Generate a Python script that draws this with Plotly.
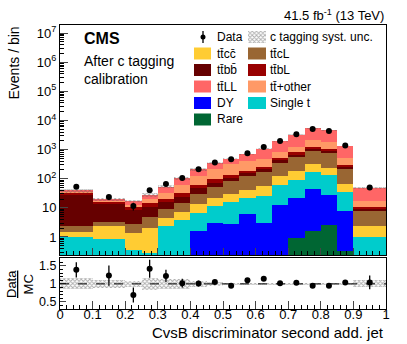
import plotly.graph_objects as go

# Binning of the CvsB discriminator (second additional jet)
bin_edges = [0.0, 0.1, 0.2, 0.25, 0.3, 0.35, 0.4, 0.45, 0.5, 0.55, 0.6, 0.65,
             0.7, 0.75, 0.8, 0.85, 0.9, 1.0]

# Expected events per process, stacked bottom -> top
rare     = [0, 0, 0, 0, 0, 0, 0, 0, 0, 0, 0, 0, 0.9, 1.6, 2.6, 0.33, 0]
dy       = [0, 0, 0, 0, 0, 0, 1.55, 3.1, 2.7, 6.0, 2.9, 12.8, 20.1, 43.4, 25.2, 7.3, 0]
single_t = [1.0, 0.83, 0.36, 0.28, 2.39, 3.8, 4.95, 8.5, 13.3, 15, 22.1, 48.2, 70, 131, 107, 27.4, 1.0]
ttcc     = [0.5, 1.57, 1.04, 1.72, 2.21, 3.6, 7.5, 10.4, 15, 21, 32, 67, 95, 139, 105, 33, 1.45]
ttcl     = [0.9, 0.96, 1.4, 2.76, 4.3, 7.7, 17, 31, 53, 78, 119, 228, 387, 605, 510, 147, 5.55]
ttbb     = [26.6, 10.6, 5.7, 5.74, 6.7, 9.2, 17, 17, 26, 40, 49, 84, 127, 180, 150, 50, 0.8]
ttbl     = [4.0, 2.0, 2.0, 3.9, 5.1, 8.7, 13, 26, 24, 30, 37, 66, 110, 160, 130, 35, 1.7]
tt_other = [2.0, 1.3, 2.1, 5.9, 12.3, 27, 63, 115, 186, 210, 208, 344, 450, 890, 770, 206, 6.8]
ttll     = [3.0, 1.8, 4.1, 7.9, 21, 44, 85, 134, 173, 284, 616, 1100, 2020, 3260, 2820, 814, 30.3]

# Observed data
data     = [53, 23.5, 11.5, 40, 66, 106, 211, 362, 468, 752, 1238, 1990, 3380, 5140, 4390, 1372, 49.5]
data_err = [7.3, 4.8, 3.4, 6.3, 8.1, 10.3, 14.5, 19, 21.6, 27.4, 35.2, 44.6, 58, 71.7, 66.3, 37, 7.0]

# Data/MC ratio and c tagging systematic uncertainty (relative)
ratio     = [1.39, 1.23, 0.69, 1.42, 1.22, 1.02, 1.01, 1.05, 0.95, 1.10, 1.14, 1.02, 1.03, 0.95, 0.95, 1.04, 1.04]
ratio_err = [0.21, 0.28, 0.21, 0.25, 0.17, 0.12, 0.08, 0.05, 0.05, 0.04, 0.035, 0.025, 0.02, 0.015, 0.015, 0.03, 0.19]
syst_unc  = [0.15, 0.11, 0.08, 0.17, 0.13, 0.13, 0.09, 0.06, 0.03, 0.03, 0.03, 0.03, 0.03, 0.03, 0.03, 0.03, 0.10]

FONT = "Liberation Sans, Arial, sans-serif"

stack = [
    (rare, "#006633"),
    (dy, "#0000ff"),
    (single_t, "#00cccc"),
    (ttcc, "#ffcc33"),
    (ttcl, "#996633"),
    (ttbb, "#660000"),
    (ttbl, "#990000"),
    (tt_other, "#ff9966"),
    (ttll, "#ff6666"),
]

centers = [(lo + hi) / 2 for lo, hi in zip(bin_edges[:-1], bin_edges[1:])]
widths = [hi - lo for lo, hi in zip(bin_edges[:-1], bin_edges[1:])]

fig = go.Figure()

# Stacked histograms
cum = [0.0] * len(centers)
for vals, color in stack:
    fig.add_trace(go.Bar(x=centers, y=vals, base=[max(c, 1e-3) for c in cum], width=widths,
                         marker=dict(color=color, line_width=0), xaxis="x", yaxis="y",
                         showlegend=False, hoverinfo="skip"))
    cum = [c + v for c, v in zip(cum, vals)]
mc = cum

hatch = dict(color="rgba(0,0,0,0)", line_width=0,
             pattern=dict(shape="x", fgcolor="#5a5a5a", bgcolor="rgba(0,0,0,0)", size=3, solidity=0.5))

# Systematic band on top of the stack
fig.add_trace(go.Bar(x=centers, y=[2 * m * u for m, u in zip(mc, syst_unc)],
                     base=[m * (1 - u) for m, u in zip(mc, syst_unc)], width=widths,
                     marker=hatch, xaxis="x", yaxis="y", showlegend=False))

fig.add_trace(go.Scatter(x=centers, y=data, mode="markers", xaxis="x", yaxis="y",
                         marker=dict(color="black", size=6),
                         error_y=dict(array=data_err, color="black", thickness=1.3, width=0),
                         showlegend=False))

# Ratio panel
fig.add_trace(go.Bar(x=centers, y=[2 * u for u in syst_unc], base=[1 - u for u in syst_unc],
                     width=widths, marker=hatch, xaxis="x2", yaxis="y2", showlegend=False))
fig.add_trace(go.Scatter(x=centers, y=ratio, mode="markers", xaxis="x2", yaxis="y2",
                         marker=dict(color="black", size=6),
                         error_y=dict(array=ratio_err, color="black", thickness=1.3, width=0),
                         showlegend=False))

# Legend swatch for the hatched uncertainty
def px_x(p):
    return (p - 60) / 326.0

def px_y(p):
    return (309 - p) / 284.0

fig.add_trace(go.Bar(x=[0.5], y=[1], width=[1], marker=hatch, xaxis="x3", yaxis="y3",
                     showlegend=False, hoverinfo="skip"))

shapes = [dict(type="line", xref="x2", yref="y2", x0=0, x1=1, y0=1, y1=1,
               line=dict(color="black", width=1, dash="dash"))]
annotations = []

legend_rows = [37, 53.5, 70, 86.5, 103, 119.5]
legend_items = [
    (1, 0, "tt\u0304cc\u0304", "#ffcc33"), (1, 1, "tt\u0304cL", "#996633"),
    (2, 0, "tt\u0304bb\u0304", "#660000"), (2, 1, "tt\u0304bL", "#990000"),
    (3, 0, "tt\u0304LL", "#ff6666"), (3, 1, "tt\u0304+other", "#ff9966"),
    (4, 0, "DY", "#0000ff"), (4, 1, "Single t", "#00cccc"),
    (5, 0, "Rare", "#006633"),
]
col_box = [(194, 211), (248, 266)]
col_text = [215, 268]
for row, col, label, color in legend_items:
    yc = legend_rows[row]
    shapes.append(dict(type="rect", xref="paper", yref="paper",
                       x0=px_x(col_box[col][0]), x1=px_x(col_box[col][1]),
                       y0=px_y(yc + 6), y1=px_y(yc - 6), fillcolor=color, line_width=0))
    annotations.append(dict(x=px_x(col_text[col]), y=px_y(yc), xref="paper", yref="paper",
                            text=label, showarrow=False, xanchor="left", yanchor="middle",
                            font=dict(family=FONT, size=12, color="black")))

# Data legend entry
shapes.append(dict(type="line", xref="paper", yref="paper", x0=px_x(203), x1=px_x(203),
                   y0=px_y(43), y1=px_y(31), line=dict(color="black", width=1.3)))
shapes.append(dict(type="circle", xref="paper", yref="paper", x0=px_x(200.5), x1=px_x(205.5),
                   y0=px_y(39.5), y1=px_y(34.5), fillcolor="black", line_width=0))
annotations.append(dict(x=px_x(215), y=px_y(37), xref="paper", yref="paper", text="Data",
                        showarrow=False, xanchor="left", yanchor="middle",
                        font=dict(family=FONT, size=12, color="black")))
annotations.append(dict(x=px_x(268), y=px_y(37), xref="paper", yref="paper",
                        text="c tagging syst. unc.", showarrow=False, xanchor="left",
                        yanchor="middle", font=dict(family=FONT, size=12, color="black")))

annotations += [
    dict(x=px_x(82), y=px_y(38), xref="paper", yref="paper", text="<b>CMS</b>",
         showarrow=False, xanchor="left", yanchor="middle",
         font=dict(family=FONT, size=16, color="black")),
    dict(x=px_x(82), y=px_y(61), xref="paper", yref="paper", text="After c tagging",
         showarrow=False, xanchor="left", yanchor="middle",
         font=dict(family=FONT, size=14, color="black")),
    dict(x=px_x(82), y=px_y(79), xref="paper", yref="paper", text="calibration",
         showarrow=False, xanchor="left", yanchor="middle",
         font=dict(family=FONT, size=14, color="black")),
    dict(x=1, y=px_y(15), xref="paper", yref="paper", text="41.5 fb<sup>-1</sup> (13 TeV)",
         showarrow=False, xanchor="right", yanchor="middle",
         font=dict(family=FONT, size=13, color="black")),
    dict(x=px_x(13), y=1, xref="paper", yref="paper", text="Events / bin", textangle=-90,
         showarrow=False, xanchor="center", yanchor="top",
         font=dict(family=FONT, size=14, color="black")),
    dict(x=px_x(20), y=px_y(284), xref="paper", yref="paper", text="<u>Data</u><br>MC",
         textangle=-90, showarrow=False, xanchor="center", yanchor="middle",
         font=dict(family=FONT, size=13, color="black")),
    dict(x=1, y=px_y(333), xref="paper", yref="paper",
         text="CvsB discriminator second add. jet", showarrow=False,
         xanchor="right", yanchor="middle", font=dict(family=FONT, size=15, color="black")),
]

common_x = dict(range=[0, 1], tickmode="linear", tick0=0, dtick=0.1, ticks="inside",
                showline=True, mirror=True, linecolor="black", linewidth=1,
                showgrid=False, zeroline=False,
                minor=dict(ticks="inside", dtick=0.02, ticklen=4, tickcolor="black"))

decades = list(range(0, 8))
fig.update_layout(
    width=407, height=344,
    margin=dict(l=60, r=21, t=25, b=35),
    paper_bgcolor="white", plot_bgcolor="white",
    barmode="overlay", bargap=0,
    font=dict(family=FONT, size=13, color="black"),
    xaxis=dict(domain=[0, 1], anchor="y", showticklabels=False, ticklen=7, **common_x),
    yaxis=dict(domain=[px_y(255), 1], anchor="x", type="log", range=[-0.62, 7.28],
               tickmode="array", tickvals=[10 ** d for d in decades],
               ticktext=["1", "10"] + ["10<sup>%d</sup>" % d for d in decades[2:]],
               ticks="inside", ticklen=8, showline=True, mirror=True, linecolor="black",
               showgrid=False, zeroline=False, tickfont=dict(size=13),
               minor=dict(tickmode="array", ticks="inside", ticklen=4, tickcolor="black",
                          tickvals=[k * 10 ** d for d in range(-1, 8) for k in range(2, 10)])),
    xaxis2=dict(domain=[0, 1], anchor="y2", ticklen=8, tickfont=dict(size=13),
                ticklabelstandoff=-7, **common_x),
    yaxis2=dict(domain=[0, px_y(258)], anchor="x2", range=[0.3, 1.72],
                tickmode="array", tickvals=[0.5, 1, 1.5], ticktext=["0.5", "1", "1.5"],
                ticks="inside", ticklen=6, showline=True, mirror=True, linecolor="black",
                showgrid=False, zeroline=False, tickfont=dict(size=12.5),
                minor=dict(tickmode="array", ticks="inside", ticklen=3, tickcolor="black",
                           tickvals=[0.4, 0.6, 0.7, 0.8, 0.9, 1.1, 1.2, 1.3, 1.4, 1.6, 1.7])),
    xaxis3=dict(domain=[px_x(248), px_x(266)], anchor="y3", range=[0, 1], visible=False),
    yaxis3=dict(domain=[px_y(43), px_y(31)], anchor="x3", range=[0, 1], visible=False),
    shapes=shapes,
    annotations=annotations,
)

fig.write_html("out.html", config={"displayModeBar": False},
               post_script="document.body.style.margin='0';")
